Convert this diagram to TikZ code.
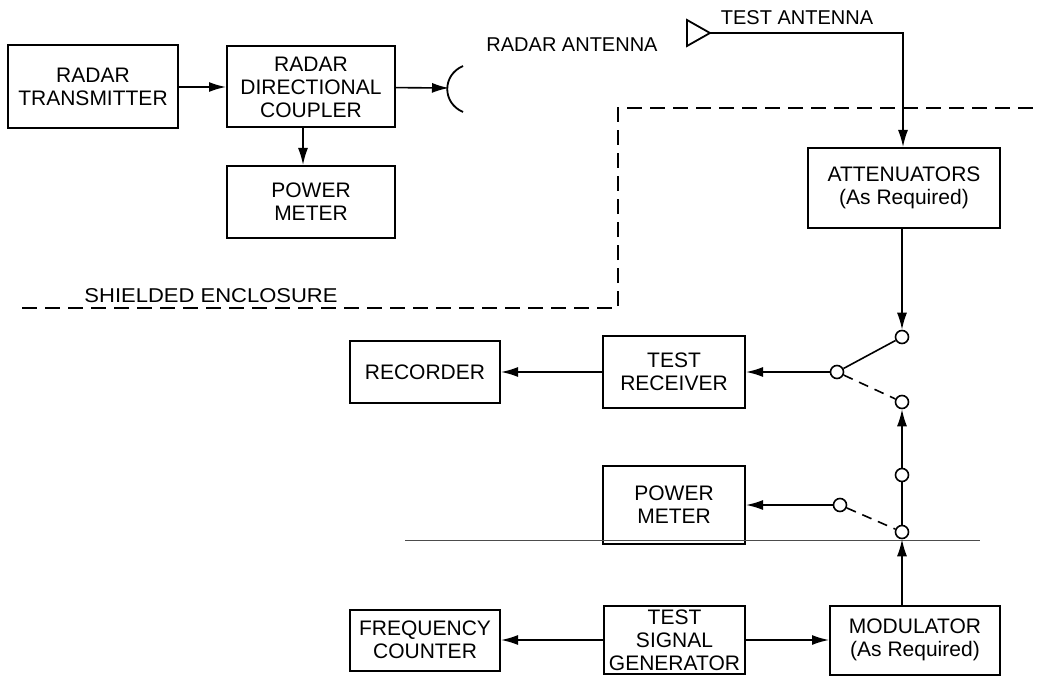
\documentclass[tikz,border=0pt]{standalone}
\usepackage{fontspec}
\setmainfont{Liberation Sans}
\usetikzlibrary{arrows.meta}
\begin{document}
\begin{tikzpicture}[x=1pt,y=-1pt, line width=1.8pt,
 blk/.style={draw, line width=2pt, align=center, font=\fontsize{21}{23}\selectfont, inner sep=0pt},
 lbl/.style={font=\fontsize{20}{22}\selectfont, inner sep=0pt},
 arr/.style={-{Latex[length=17pt,width=10pt]}, line width=1.6pt},
 sw/.style={circle, draw, fill=white, minimum size=13pt, inner sep=0pt, line width=1.6pt},
 encl/.style={line width=1.8pt, dash pattern=on 15pt off 8pt},
 swd/.style={line width=1.6pt, dash pattern=on 10pt off 7pt}]
\useasboundingbox (0,0) rectangle (1041,687);
% blocks
\node[blk, minimum width=170pt, minimum height=83pt] (tx) at (93,87) {RADAR\\TRANSMITTER};
\node[blk, minimum width=168pt, minimum height=81pt] (cpl) at (311,87) {RADAR\\DIRECTIONAL\\COUPLER};
\node[blk, minimum width=168pt, minimum height=72pt] (pm1) at (311,202) {POWER\\METER};
\node[blk, minimum width=192pt, minimum height=80pt] (att) at (904,188) {ATTENUATORS\\(As Required)};
\node[blk, minimum width=142pt, minimum height=72pt] (rx) at (674,372) {TEST\\RECEIVER};
\node[blk, minimum width=150pt, minimum height=62pt] (rec) at (425,372) {RECORDER};
\node[blk, minimum width=142pt, minimum height=78pt] (pm2) at (674,505) {POWER\\METER};
\node[blk, minimum width=141pt, minimum height=68pt] (gen) at (674.5,640) {TEST\\SIGNAL\\GENERATOR};
\node[blk, minimum width=170pt, minimum height=69pt] (mod) at (915,640) {MODULATOR\\(As Required)};
\node[blk, minimum width=150pt, minimum height=61pt] (fc) at (425,640) {FREQUENCY\\COUNTER};
% labels
\node[lbl] (ral) at (572,45) {RADAR ANTENNA};
\node[lbl] (tal) at (797,18) {TEST ANTENNA};
\node[lbl, xscale=1.1] (sel) at (211,296) {SHIELDED ENCLOSURE};
% enclosure and thin line
\draw[encl] (22,308) -- (618,308) -- (618,108) -- (1041,108);
\draw[line width=0.6pt, black!70] (405,540) -- (980,540);
% switch contacts
\node[sw] (c1) at (902,337) {};
\node[sw] (piv) at (837,372) {};
\node[sw] (c2) at (902,402) {};
\node[sw] (c3) at (902,475) {};
\node[sw] (c4) at (902,532) {};
\node[sw] (piv2) at (840,505) {};
% antennas
\coordinate (ant) at (449,88);
\draw[line width=1.8pt] (463,66) .. controls (442,75) and (442,103) .. (463,112);
\coordinate (ta) at (710,33);
\draw[line width=1.8pt] (687,20) -- (ta) -- (687,46) -- cycle;
% connectors
\draw[arr] (tx) -- (cpl);
\draw[arr] (cpl) -- (ant);
\draw[arr] (cpl.south -| 303,0) -- (pm1.north -| 303,0);
\draw[arr] (ta) -- (903,33) -- (att.north -| 903,0);
\draw[arr] (att.south -| c1) -- (c1);
\draw[line width=1.6pt] (piv) -- (c1);
\draw[swd] (piv) -- (c2);
\draw[arr] (piv) -- (rx.east |- piv);
\draw[arr] (rx) -- (rec);
\draw[arr] (c3) -- (c2);
\draw[line width=1.6pt] (c3) -- (c4);
\draw[swd] (piv2) -- (c4);
\draw[arr] (piv2) -- (pm2.east |- piv2);
\draw[arr] (mod.north -| c4) -- (c4);
\draw[arr] (gen) -- (mod);
\draw[arr] (gen) -- (fc);
\end{tikzpicture}
\end{document}
